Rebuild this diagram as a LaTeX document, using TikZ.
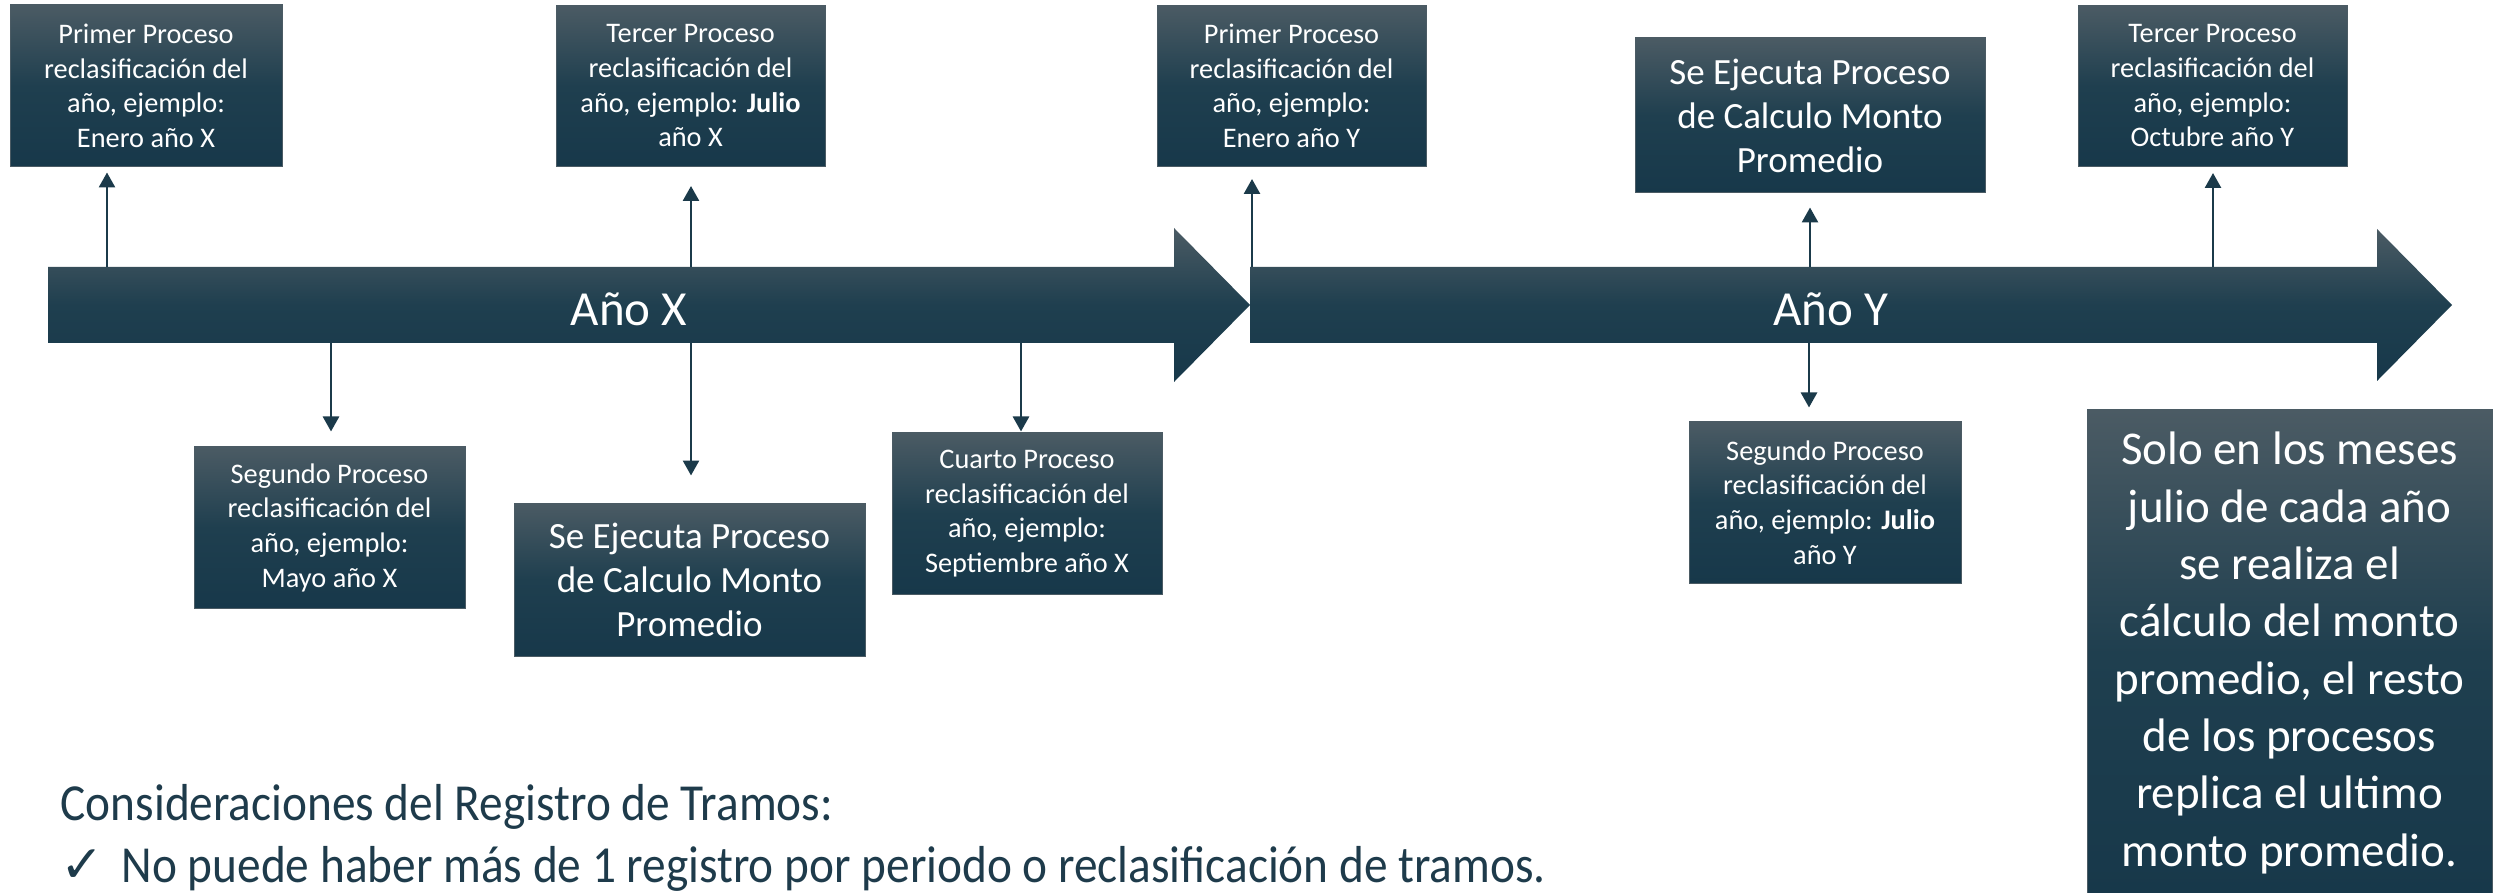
\documentclass[tikz,border=0pt]{standalone}
\usepackage{fontspec}
\setmainfont{Carlito}
\newfontfamily\condfont[FakeStretch=0.91]{Carlito}
\newfontfamily\symfont{DejaVu Sans}
\usetikzlibrary{arrows.meta}
\definecolor{topc}{HTML}{4B5B64}
\definecolor{midc}{HTML}{1F3F4F}
\definecolor{botc}{HTML}{17384A}
\definecolor{linec}{HTML}{1B3A4A}
\definecolor{txtc}{HTML}{1E3B4B}
\tikzset{
  grad/.style={top color=topc, bottom color=botc, middle color=midc},
  sbox/.style={grad, draw=topc, line width=0.3pt, text=white, align=center, inner sep=0pt,
    font=\fontsize{8.5}{10.4}\selectfont},
  mbox/.style={sbox, font=\fontsize{11.1}{13.2}\selectfont},
  bbox/.style={sbox, font=\fontsize{14.1}{17.2}\selectfont},
  conn/.style={draw=linec, line width=0.8pt, -{Triangle[width=4.8pt,length=4.5pt]}},
  yearlbl/.style={text=white, font=\fontsize{14.7}{18}\selectfont, inner sep=0pt},
  note/.style={text=txtc, font=\condfont\fontsize{15.6}{19}\selectfont, inner sep=0pt, anchor=base west}
}
\begin{document}
\begin{tikzpicture}[x=0.3pt, y=-0.3pt]
\useasboundingbox (0,0) rectangle (2496,893);

% timeline bars
\shade[grad] (48,267) -- (1174,267) -- (1174,228) -- (1250,305) -- (1174,382) -- (1174,343) -- (48,343) -- cycle;
\shade[grad] (1250,267) -- (2377,267) -- (2377,229) -- (2452,305) -- (2377,381) -- (2377,343) -- (1250,343) -- cycle;
\node[yearlbl] (yx) at (629,309) {Año X};
\node[yearlbl] (yy) at (1831,309) {Año Y};

% boxes
\node[sbox, minimum width=81.6pt, minimum height=48.6pt] (b1) at (146,86)
  {Primer Proceso\\reclasificación del\\año, ejemplo:\\Enero año X};
\node[sbox, minimum width=81.3pt, minimum height=48.3pt] (b2) at (329.5,527.5)
  {Segundo Proceso\\reclasificación del\\año, ejemplo:\\Mayo año X};
\node[sbox, minimum width=80.7pt, minimum height=48.3pt] (b3) at (690.5,86)
  {Tercer Proceso\\reclasificación del\\año, ejemplo: \textbf{Julio}\\año X};
\node[mbox, minimum width=105.3pt, minimum height=45.9pt] (b4) at (689.5,579.5)
  {Se Ejecuta Proceso\\de Calculo Monto\\Promedio};
\node[sbox, minimum width=81pt, minimum height=48.3pt] (b5) at (1027,513.5)
  {Cuarto Proceso\\reclasificación del\\año, ejemplo:\\Septiembre año X};
\node[sbox, minimum width=80.7pt, minimum height=48.3pt] (b6) at (1291.5,86)
  {Primer Proceso\\reclasificación del\\año, ejemplo:\\Enero año Y};
\node[mbox, minimum width=105pt, minimum height=46.5pt] (b7) at (1810,115.5)
  {Se Ejecuta Proceso\\de Calculo Monto\\Promedio};
\node[sbox, minimum width=81.6pt, minimum height=48.3pt] (b8) at (1825,502.5)
  {Segundo Proceso\\reclasificación del\\año, ejemplo: \textbf{Julio}\\año Y};
\node[sbox, minimum width=80.7pt, minimum height=48.3pt] (b9) at (2212.5,86)
  {Tercer Proceso\\reclasificación del\\año, ejemplo:\\Octubre año Y};
\node[bbox, minimum width=121.5pt, minimum height=146pt, anchor=north] (b10) at (2289.5,409)
  {Solo en los meses\\julio de cada año\\se realiza el\\cálculo del monto\\promedio, el resto\\de los procesos\\replica el ultimo\\monto promedio.};

% attachment points on the bars
\coordinate (a1) at (107,267);
\coordinate (a2) at (331,343);
\coordinate (a3) at (691,267);
\coordinate (a4) at (691,343);
\coordinate (a5) at (1021,343);
\coordinate (a6) at (1252,267);
\coordinate (a7) at (1810,267);
\coordinate (a8) at (1809,343);
\coordinate (a9) at (2213,267);

% connectors
\draw[conn, shorten >=1.5pt] (a1) -- (a1 |- b1.south);
\draw[conn, shorten >=4.5pt] (a2) -- (a2 |- b2.north);
\draw[conn, shorten >=5.7pt] (a3) -- (a3 |- b3.south);
\draw[conn, shorten >=8.1pt] (a4) -- (a4 |- b4.north);
\draw[conn, shorten >=0.3pt] (a5) -- (a5 |- b5.north);
\draw[conn, shorten >=3.6pt] (a6) -- (a6 |- b6.south);
\draw[conn, shorten >=4.2pt] (a7) -- (a7 |- b7.south);
\draw[conn, shorten >=4.2pt] (a8) -- (a8 |- b8.north);
\draw[conn, shorten >=1.8pt] (a9) -- (a9 |- b9.south);

% notes
\node[note] (n1) at (60,820) {Consideraciones del Registro de Tramos:};
\node[note] (ck) at (60,882) {\symfont ✓};
\node[note] (n2) at (121,882) {No puede haber más de 1 registro por periodo o reclasificación de tramos.};
\end{tikzpicture}
\end{document}
